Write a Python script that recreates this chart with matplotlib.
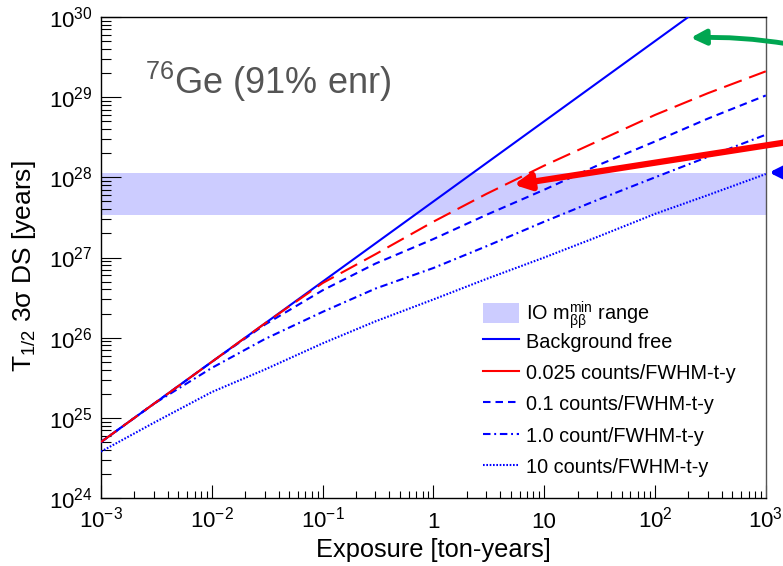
import matplotlib
matplotlib.use("Agg")
import matplotlib.pyplot as plt
from matplotlib.lines import Line2D
from matplotlib.patches import Patch

plt.rcParams['font.family'] = ['Liberation Sans', 'DejaVu Sans']
plt.rcParams['mathtext.fontset'] = 'custom'
plt.rcParams['mathtext.rm'] = 'Liberation Sans'
plt.rcParams['mathtext.it'] = 'Liberation Sans:italic'
plt.rcParams['mathtext.bf'] = 'Liberation Sans:bold'

# exposure grid [ton-years]
exposure = [1e-3, 3e-3, 1e-2, 3e-2, 1e-1, 3e-1, 1, 3, 10, 30, 100, 300, 1e3]

# 3 sigma discovery sensitivity [years]
bkg_free = [5e24, 1.5e25, 5e25, 1.5e26, 5e26, 1.5e27, 5e27, 1.5e28, 5e28, 1.5e29, 5e29, 1.5e30, 5e30]
bkg_0025 = [5e24, 1.5e25, 5e25, 1.5e26, 4.8e26, 1.1e27, 2.8e27, 6.2e27, 1.4e28, 2.8e28, 6.0e28, 1.12e29, 2.1e29]
bkg_01 = [5e24, 1.5e25, 5e25, 1.45e26, 3.9e26, 8.4e26, 1.7e27, 3.4e27, 7.0e27, 1.4e28, 2.8e28, 5.4e28, 1.05e29]
bkg_1 = [5e24, 1.5e25, 4.2e25, 9.6e25, 2.1e26, 4.1e26, 7.4e26, 1.38e27, 2.8e27, 5.2e27, 1.0e28, 1.8e28, 3.4e28]
bkg_10 = [3.8e24, 8.7e24, 2.1e25, 4.0e25, 8.5e25, 1.6e26, 3.0e26, 5.4e26, 1.0e27, 1.8e27, 3.5e27, 6.0e27, 1.1e28]

# IO m_bb^min band
io_low, io_high = 3.4e27, 1.12e28

xticks = [1e-3, 1e-2, 1e-1, 1, 10, 1e2, 1e3]
xticklabels = [r'$10^{-3}$', r'$10^{-2}$', r'$10^{-1}$', '1', '10', r'$10^{2}$', r'$10^{3}$']
yticks = [1e24, 1e25, 1e26, 1e27, 1e28, 1e29, 1e30]
yticklabels = [r'$10^{24}$', r'$10^{25}$', r'$10^{26}$', r'$10^{27}$', r'$10^{28}$', r'$10^{29}$', r'$10^{30}$']

band_label = r'IO m$_{\mathrm{\beta\beta}}^{\mathrm{min}}$ range'
line_labels = ['Background free', '0.025 counts/FWHM-t-y', '0.1 counts/FWHM-t-y',
               '1.0 count/FWHM-t-y', '10 counts/FWHM-t-y']

band_color = '#ccccff'
lw = 1.5
ls_red = (0, (9, 3.8))
ls_dash = (0, (3.6, 2.4))
ls_dashdot = (0, (3.6, 1.8, 0.9, 1.8))
ls_dot = (0, (0.8, 0.8))

fig = plt.figure(figsize=(7.83, 5.66), dpi=100)
ax = fig.add_axes([0.129, 0.120, 0.849, 0.850])

ax.axhspan(io_low, io_high, color=band_color, lw=0, zorder=1)
ax.plot(exposure, bkg_free, color='blue', lw=lw, zorder=3)
ax.plot(exposure, bkg_0025, color='red', lw=lw, ls=ls_red, zorder=4)
ax.plot(exposure, bkg_01, color='blue', lw=lw, ls=ls_dash, zorder=3)
ax.plot(exposure, bkg_1, color='blue', lw=lw, ls=ls_dashdot, zorder=3)
ax.plot(exposure, bkg_10, color='blue', lw=lw, ls=ls_dot, zorder=3)

ax.set_xscale('log')
ax.set_yscale('log')
ax.set_xlim(1e-3, 1e3)
ax.set_ylim(1e24, 1e30)

ax.set_xticks(xticks)
ax.set_xticklabels(xticklabels, fontsize=16)
for t in ax.get_xticklabels():
    t.set_va('baseline')
ax.set_yticks(yticks)
ax.set_yticklabels(yticklabels, fontsize=16)
ax.tick_params(axis='x', which='major', direction='in', length=9.5, width=0.8, pad=21.5, top=False)
ax.tick_params(axis='x', which='minor', direction='in', length=5, width=0.8, top=False)
ax.tick_params(axis='y', which='major', direction='in', length=14.5, width=0.8, pad=6, right=False)
ax.tick_params(axis='y', which='minor', direction='in', length=7, width=0.8, right=False)
ax.yaxis.set_minor_locator(matplotlib.ticker.LogLocator(base=10, subs=range(2, 10), numticks=20))
ax.xaxis.set_minor_locator(matplotlib.ticker.LogLocator(base=10, subs=range(2, 10), numticks=20))
ax.yaxis.set_minor_formatter(matplotlib.ticker.NullFormatter())
ax.xaxis.set_minor_formatter(matplotlib.ticker.NullFormatter())
for s in ax.spines.values():
    s.set_linewidth(1.0)
ax.spines['right'].set_color('#555555')

ax.set_xlabel('Exposure [ton-years]', fontsize=18.3)
ax.xaxis.set_label_coords(0.5, -0.083)
ax.set_ylabel(r'T$_{1/2}$ 3σ DS [years]', fontsize=19)
ax.yaxis.set_label_coords(-0.095, 0.482)

ax.text(0.066, 0.865, r'$^{76}$Ge (91% enr)', transform=ax.transAxes,
        fontsize=26, color='#555555', va='center', ha='left')

legend_kw = dict(frameon=False, fontsize=14.3, handlelength=1.85, handleheight=1.1,
                 handletextpad=0.35, borderpad=0, borderaxespad=0)
leg1 = ax.legend([Patch(facecolor=band_color, edgecolor='none')], [band_label],
                 loc='center left', bbox_to_anchor=(0.574, 0.381), **legend_kw)
ax.add_artist(leg1)
line_handles = [Line2D([], [], color='blue', lw=lw),
                Line2D([], [], color='red', lw=lw),
                Line2D([], [], color='blue', lw=lw, ls=ls_dash),
                Line2D([], [], color='blue', lw=lw, ls=ls_dashdot),
                Line2D([], [], color='blue', lw=lw, ls=ls_dot)]
ax.legend(line_handles, line_labels, loc='center left', bbox_to_anchor=(0.574, 0.195),
          labelspacing=0.56, **legend_kw)

# annotation arrows coming in from the right edge
ax.annotate('', xy=(210, 5.5e29), xytext=(1600, 4.6e29), xycoords='data',
            arrowprops=dict(arrowstyle='-|>', color='#00a651', lw=3.5, mutation_scale=22,
                            connectionstyle='arc3,rad=0.05', shrinkA=0, shrinkB=0),
            annotation_clip=False)
ax.annotate('', xy=(5.3, 8.1e27), xytext=(1700, 2.8e28), xycoords='data',
            arrowprops=dict(arrowstyle='-|>', color='red', lw=4.5, mutation_scale=24,
                            shrinkA=0, shrinkB=0),
            annotation_clip=False)
ax.annotate('', xy=(1070, 1.15e28), xytext=(2100, 1.15e28), xycoords='data',
            arrowprops=dict(arrowstyle='-|>', color='blue', lw=3.5, mutation_scale=22,
                            shrinkA=0, shrinkB=0),
            annotation_clip=False)

fig.savefig('out.png', dpi=100)
